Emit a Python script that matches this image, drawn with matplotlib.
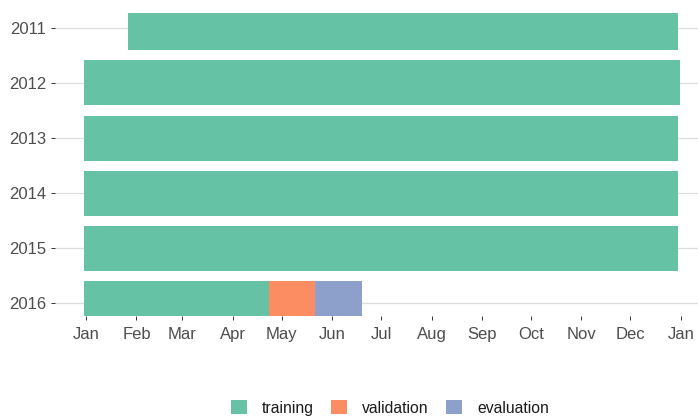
import matplotlib
matplotlib.use("Agg")
import matplotlib.pyplot as plt
from matplotlib.patches import Patch
import datetime as dt

plt.rcParams['font.family'] = ['Liberation Sans', 'DejaVu Sans']

years = [2011, 2012, 2013, 2014, 2015, 2016]
segments = [
    # (year, split, start, end)
    (2011, "training", "2011-01-28", "2011-12-31"),
    (2012, "training", "2012-01-01", "2012-12-31"),
    (2013, "training", "2013-01-01", "2013-12-31"),
    (2014, "training", "2014-01-01", "2014-12-31"),
    (2015, "training", "2015-01-01", "2015-12-31"),
    (2016, "training", "2016-01-01", "2016-04-23"),
    (2016, "validation", "2016-04-24", "2016-05-21"),
    (2016, "evaluation", "2016-05-22", "2016-06-19"),
]
splits = ["training", "validation", "evaluation"]
colors = {"training": "#66c2a5", "validation": "#fc8d62", "evaluation": "#8da0cb"}
month_labels = ["Jan", "Feb", "Mar", "Apr", "May", "Jun", "Jul", "Aug",
                "Sep", "Oct", "Nov", "Dec", "Jan"]

def days_since(s):
    d = dt.date.fromisoformat(s)
    return (d - dt.date(d.year, 1, 1)).days

fig = plt.figure(figsize=(6.98, 4.20), dpi=100)
ax = fig.add_axes([55/698, 104/420, 643/698, 303/420])

bar_h = 0.817
for year, split, start, end in segments:
    left = days_since(start) - 1.5
    right = days_since(end) - 0.5
    ax.barh(year, right - left, left=left, height=bar_h,
            color=colors[split], edgecolor='none', zorder=2)

for y in years:
    ax.axhline(y, color='#dddddd', lw=0.9, zorder=1)

month_ticks = [(dt.date(2015, m, 1) - dt.date(2015, 1, 1)).days for m in range(1, 13)] + [365]
ax.set_xticks(month_ticks)
ax.set_xticklabels(month_labels)
ax.set_yticks(years)
ax.set_yticklabels([str(y) for y in years])
ax.set_xlim(-19.0, 375.5)
ax.set_ylim(2016.229, 2010.73)

for s in ax.spines.values():
    s.set_visible(False)
ax.tick_params(axis='both', colors='#333333', length=3, width=0.7,
               labelsize=12, labelcolor='#4d4d4d')
ax.tick_params(axis='x', pad=5)
ax.tick_params(axis='y', pad=3.5)

handles = [Patch(facecolor=colors[s], edgecolor='none', label=s) for s in splits]
fig.legend(handles=handles, loc='center', bbox_to_anchor=(390/698, 12/420),
           ncol=3, frameon=False, fontsize=11.3, handlelength=1.0,
           handleheight=0.95, handletextpad=0.97, columnspacing=1.1,
           labelcolor='#1a1a1a')

fig.savefig("out.png", dpi=100)
